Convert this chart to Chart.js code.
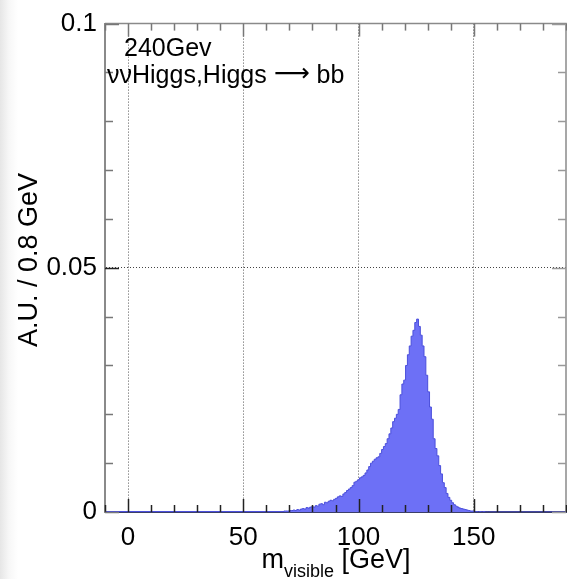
<!DOCTYPE html>
<html>
<head>
<meta charset="utf-8">
<script src="https://cdn.jsdelivr.net/npm/chart.js@4.4.0/dist/chart.umd.min.js"></script>
<style>
html, body { margin: 0; padding: 0; background: #fff; }
#wrap { width: 567px; height: 579px; background: linear-gradient(to right, #e6e6e6 0px, #f7f7f7 9px, #fff 18px); }
</style>
</head>
<body>
<div id="wrap"><canvas id="chart1" width="567" height="579"></canvas></div>
<script>
// tick labels
var xLabels = [0, 50, 100, 150];
var yLabels = [0, 0.05, 0.1];

// histogram: 0.8 GeV bins, first filled bin starts at 66.8 GeV
var binWidth = 0.8;
var firstEdge = 66.8;
var counts = [
	0.0001, 0.0001, 0.0002, 0.0002, 0.0002, 0.0003, 0.0003, 0.0004, 0.0003, 0.0005,
	0.0004, 0.0006, 0.0007, 0.0006, 0.0009, 0.0008, 0.0010, 0.0011, 0.0010, 0.0013,
	0.0012, 0.0016, 0.0017, 0.0015, 0.0020, 0.0019, 0.0022, 0.0024, 0.0023, 0.0026,
	0.0028, 0.0031, 0.0033, 0.0032, 0.0037, 0.0040, 0.0044, 0.0047, 0.0050, 0.0054,
	0.0061, 0.0063, 0.0066, 0.0070, 0.0072, 0.0075, 0.0080, 0.0086, 0.0093, 0.0100,
	0.0104, 0.0108, 0.0111, 0.0113, 0.0120, 0.0128, 0.0134, 0.0140, 0.0150, 0.0160,
	0.0172, 0.0185, 0.0192, 0.0200, 0.0210, 0.0240, 0.0262, 0.0270, 0.0300, 0.0322,
	0.0340, 0.0360, 0.0372, 0.0388, 0.0395, 0.0380, 0.0362, 0.0340, 0.0318, 0.0280,
	0.0246, 0.0215, 0.0190, 0.0150, 0.0130, 0.0115, 0.0095, 0.0078, 0.0060, 0.0050,
	0.0038, 0.0030, 0.0024, 0.0019, 0.0015, 0.0012, 0.0010, 0.0008, 0.0007, 0.0006,
	0.0005, 0.0004, 0.0003, 0.0002, 0.0002, 0.0001, 0.0001, 0.0000, 0.0001, 0.0000,
	0.0001, 0.0000
];

var noteEnergy = "240Gev";
var noteProcess = ["\u03bd\u03bdHiggs,Higgs ", "\u27f6", " bb"];
var yTitle = "A.U. / 0.8 GeV";

var fam = '"Liberation Sans", Arial, Helvetica, sans-serif';

function buildPoints(){
	var pts = [{x: -10, y: 0}];
	for (var i = 0; i < counts.length; i++) {
		pts.push({x: firstEdge + i * binWidth, y: counts[i]});
	}
	pts.push({x: firstEdge + counts.length * binWidth, y: 0});
	pts.push({x: 190, y: 0});
	return pts;
}

// ROOT style frame: top/right lines plus ticks pointing inwards
var frameTicks = {
	id: 'frameTicks',
	afterDatasetsDraw: function(chart){
		var ctx = chart.ctx, a = chart.chartArea;
		var sx = chart.scales.x, sy = chart.scales.y;
		ctx.save();
		ctx.strokeStyle = '#8a8a8a';
		ctx.lineWidth = 1.5;
		ctx.beginPath();
		ctx.moveTo(a.left, a.top); ctx.lineTo(a.right, a.top); ctx.lineTo(a.right, a.bottom);
		ctx.stroke();

		for (var v = -10; v <= 190; v += 10) {
			var px = Math.round(sx.getPixelForValue(v)) + 0.5;
			var len = (v % 50 === 0) ? 13 : 7;
			ctx.strokeStyle = '#222';
			ctx.beginPath(); ctx.moveTo(px, a.bottom); ctx.lineTo(px, a.bottom - len); ctx.stroke();
			ctx.strokeStyle = '#777';
			ctx.beginPath(); ctx.moveTo(px, a.top); ctx.lineTo(px, a.top + len); ctx.stroke();
		}
		for (var k = 0; k <= 10; k++) {
			var py = Math.round(sy.getPixelForValue(k * 0.01)) + 0.5;
			var ylen = (k % 5 === 0) ? 14 : 8;
			ctx.strokeStyle = (k === 5) ? '#222' : '#777';
			ctx.beginPath(); ctx.moveTo(a.left, py); ctx.lineTo(a.left + ylen, py); ctx.stroke();
			ctx.strokeStyle = '#999';
			ctx.beginPath(); ctx.moveTo(a.right, py); ctx.lineTo(a.right - ylen, py); ctx.stroke();
		}
		ctx.restore();
	},
	afterDraw: function(chart){
		var ctx = chart.ctx;
		ctx.save();
		ctx.fillStyle = '#000';
		ctx.textBaseline = 'alphabetic';
		ctx.textAlign = 'left';

		// notes inside the frame
		ctx.font = '25px ' + fam;
		ctx.fillText(noteEnergy, 124, 56);
		var nx = 107;
		ctx.fillText(noteProcess[0], nx, 83);
		nx += ctx.measureText(noteProcess[0]).width;
		ctx.font = '25px "DejaVu Sans", sans-serif';
		ctx.fillText(noteProcess[1], nx, 81);
		nx += ctx.measureText(noteProcess[1]).width;
		ctx.font = '25px ' + fam;
		ctx.fillText(noteProcess[2], nx, 83);

		// x title with subscript
		var big = '27px ' + fam, small = '18px ' + fam;
		ctx.font = big; var w1 = ctx.measureText('m').width; var w3 = ctx.measureText(' [GeV]').width;
		ctx.font = small; var w2 = ctx.measureText('visible').width;
		var x0 = 336 - (w1 + w2 + w3) / 2;
		ctx.font = big; ctx.fillText('m', x0, 568);
		ctx.font = small; ctx.fillText('visible', x0 + w1, 577);
		ctx.font = big; ctx.fillText(' [GeV]', x0 + w1 + w2, 568);

		// y title
		ctx.translate(37, 260);
		ctx.rotate(-Math.PI / 2);
		ctx.font = '27px ' + fam;
		ctx.textAlign = 'center';
		ctx.fillText(yTitle, 0, 0);
		ctx.restore();
	}
};

var datos = {
	type: 'line',
	data: {
		datasets: [{
			data: buildPoints(),
			stepped: 'after',
			fill: 'origin',
			backgroundColor: '#6d70f6',
			borderColor: '#4b4fdc',
			borderWidth: 1,
			pointRadius: 0,
			pointHoverRadius: 0
		}]
	},
	options: {
		responsive: false,
		animation: false,
		events: [],
		layout: { padding: { left: 0, right: 1, top: 17, bottom: 0 } },
		plugins: { legend: { display: false }, tooltip: { enabled: false } },
		scales: {
			x: {
				type: 'linear',
				min: -10,
				max: 190,
				afterBuildTicks: function(s){ s.ticks = xLabels.map(function(v){ return {value: v}; }); },
				afterFit: function(s){ s.height = 67; },
				ticks: {
					autoSkip: false, maxRotation: 0, padding: 10, color: '#000',
					font: { family: fam, size: 26 },
					callback: function(v){ return String(v); }
				},
				grid: { color: '#555', lineWidth: 1, drawTicks: false },
				border: { display: true, color: '#3c3f68', width: 2, dash: [1, 2] }
			},
			y: {
				min: 0,
				max: 0.1,
				afterBuildTicks: function(s){ s.ticks = yLabels.map(function(v){ return {value: v}; }); },
				afterFit: function(s){ s.width = 105; },
				ticks: {
					padding: 8, color: '#000',
					font: { family: fam, size: 26 },
					callback: function(v){ return v === 0 ? '0' : String(v); }
				},
				grid: {
					drawTicks: false, lineWidth: 1,
					color: function(c){ return (c.tick && c.tick.value === 0.05) ? '#444' : 'rgba(0,0,0,0)'; }
				},
				border: { display: true, color: '#8a8a8a', width: 2, dash: [1, 2] }
			}
		}
	},
	plugins: [frameTicks]
};

var canvas = document.getElementById('chart1').getContext('2d');
window.hist = new Chart(canvas, datos);
</script>
</body>
</html>
